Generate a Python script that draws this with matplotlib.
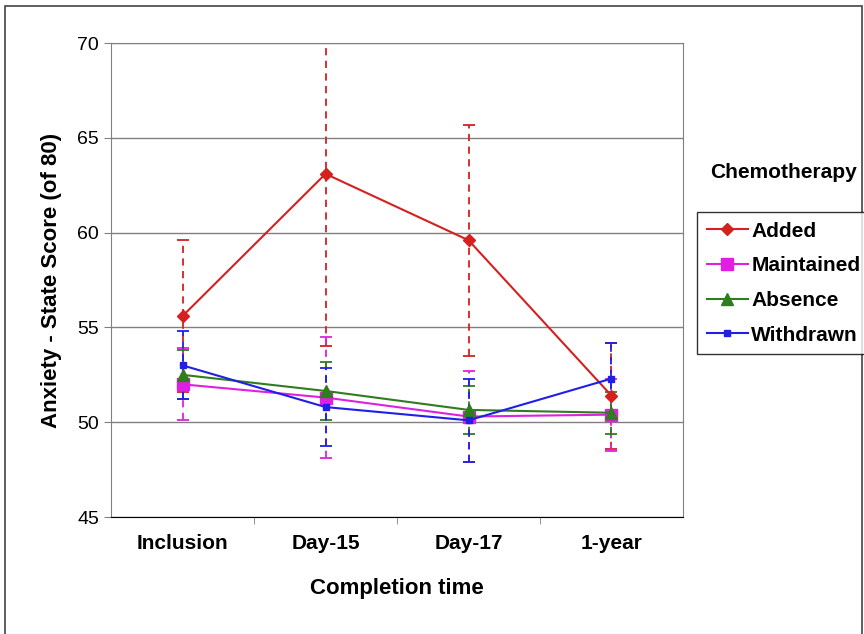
import matplotlib
matplotlib.use("Agg")
import matplotlib.pyplot as plt
from matplotlib.patches import Rectangle

plt.rcParams['font.family'] = ['Liberation Sans', 'DejaVu Sans']

categories = ["Inclusion", "Day-15", "Day-17", "1-year"]

added = [55.6, 63.1, 59.6, 51.4]
added_err = [4.0, 9.1, 6.1, 2.8]
maintained = [52.0, 51.3, 50.3, 50.4]
maintained_err = [1.9, 3.2, 2.4, 1.9]
absence = [52.5, 51.65, 50.65, 50.5]
absence_err = [1.3, 1.55, 1.25, 1.1]
withdrawn = [53.0, 50.8, 50.1, 52.3]
withdrawn_err = [1.8, 2.05, 2.2, 1.9]

series = [
    ("Added", added, added_err, "#d62020", "D", 6),
    ("Maintained", maintained, maintained_err, "#e020e0", "s", 8),
    ("Absence", absence, absence_err, "#2f7d1f", "^", 8),
    ("Withdrawn", withdrawn, withdrawn_err, "#1f1fe8", "s", 5),
]

fig = plt.figure(figsize=(8.64, 6.34), dpi=100)
fig.patches.append(Rectangle((0.006, -0.01), 0.992, 1.0, transform=fig.transFigure,
                             fill=False, edgecolor="#444444", linewidth=1.2))
ax = fig.add_axes([0.1285, 0.1845, 0.662, 0.7476])

x = list(range(len(categories)))
handles = []
for name, vals, errs, col, mk, ms in series:
    eb = ax.errorbar(x, vals, yerr=errs, color=col, ecolor=col, elinewidth=1.3,
                     capsize=4, capthick=1.3, fmt="none", zorder=2)
    eb[2][0].set_linestyle((0, (4, 3)))
    ln, = ax.plot(x, vals, color=col, marker=mk, markersize=ms, linewidth=1.5,
                  label=name, zorder=3)
    handles.append(ln)

ax.set_xlim(-0.5, 3.5)
ax.set_ylim(45, 70)
ax.set_yticks([45, 50, 55, 60, 65, 70])
ax.yaxis.grid(True, color="#808080", linewidth=1.0)
ax.set_axisbelow(True)
ax.set_xticks(x)
ax.set_xticklabels(categories, fontweight="bold", fontsize=15)
ax.set_xticks([0.5, 1.5, 2.5], minor=True)
ax.tick_params(axis="x", which="major", length=0, pad=12)
ax.tick_params(axis="x", which="minor", length=5, color="#808080")
ax.tick_params(axis="y", labelsize=14, length=5, color="#808080")
for s in ["top", "right", "left"]:
    ax.spines[s].set_color("#808080")
ax.spines["bottom"].set_color("black")

ax.set_xlabel("Completion time", fontweight="bold", fontsize=16, labelpad=18)
ax.set_ylabel("Anxiety - State Score (of 80)", fontweight="bold", fontsize=16, labelpad=11)

fig.text(0.822, 0.728, "Chemotherapy", fontweight="bold", fontsize=15, va="center")
leg = fig.legend(handles=handles, loc="upper left", bbox_to_anchor=(0.807, 0.665),
                 prop={"weight": "bold", "size": 15}, frameon=True, fancybox=False,
                 edgecolor="black", handlelength=2.0, handletextpad=0.15,
                 borderpad=0.45, labelspacing=0.75, borderaxespad=0)
leg.get_frame().set_linewidth(1.0)

fig.savefig("out.png", dpi=100)
